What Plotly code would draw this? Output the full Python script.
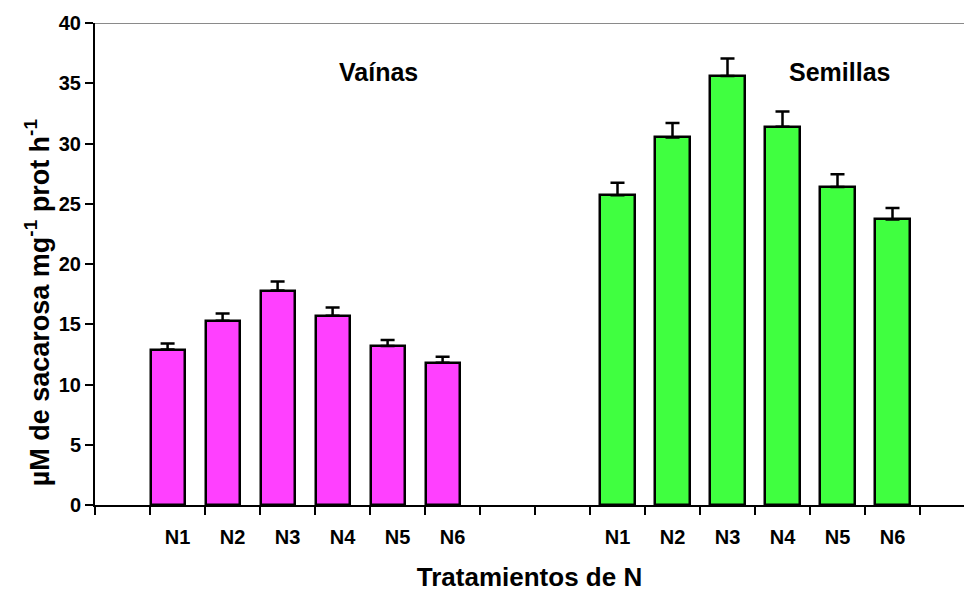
import plotly.graph_objects as go

# Treatment labels and measured sucrose activity (mean and standard error)
tratamientos = ["N1", "N2", "N3", "N4", "N5", "N6"]
vainas = [12.9, 15.3, 17.8, 15.7, 13.2, 11.8]
vainas_err = [0.5, 0.6, 0.75, 0.7, 0.5, 0.5]
semillas = [25.7, 30.5, 35.6, 31.4, 26.4, 23.7]
semillas_err = [1.05, 1.2, 1.45, 1.25, 1.05, 0.95]

# slot positions along the x axis for each group
pos_vainas = [1, 2, 3, 4, 5, 6]
pos_semillas = [9, 10, 11, 12, 13, 14]
all_pos = pos_vainas + pos_semillas
all_labels = tratamientos + tratamientos

FONT = "Liberation Sans"
x_range = [-0.5, 15.3]

fig = go.Figure()

fig.add_trace(go.Bar(
    x=[p - 0.18 for p in pos_vainas], y=vainas, width=0.62,
    marker=dict(color="#FF40FF", line=dict(color="black", width=2.5)),
    error_y=dict(type="data", array=vainas_err, symmetric=False,
                 arrayminus=[0] * len(vainas_err),
                 color="black", thickness=2.5, width=7),
    showlegend=False,
))
fig.add_trace(go.Bar(
    x=pos_semillas, y=semillas, width=0.62,
    marker=dict(color="#40FF40", line=dict(color="black", width=2.5)),
    error_y=dict(type="data", array=semillas_err, symmetric=False,
                 arrayminus=[0] * len(semillas_err),
                 color="black", thickness=2.5, width=7),
    showlegend=False,
))

# invisible trace that carries the treatment labels on the overlaid axis
fig.add_trace(go.Scatter(x=all_pos, y=[0] * len(all_pos), xaxis="x2",
                         mode="markers", marker=dict(opacity=0),
                         showlegend=False, hoverinfo="skip"))

fig.update_layout(
    width=964, height=592,
    margin=dict(l=95, r=0, t=23, b=87),
    paper_bgcolor="white", plot_bgcolor="white",
    bargap=0,
    font=dict(family=FONT, color="black"),
    xaxis=dict(
        range=x_range,
        tickmode="array",
        tickvals=[i + 0.5 for i in range(-1, 16)],
        showticklabels=False,
        ticks="outside", ticklen=8, tickwidth=2, tickcolor="black",
        showline=True, linecolor="black", linewidth=2,
        showgrid=False, zeroline=False, automargin=False,
        title=dict(text="Tratamientos de N",
                   font=dict(family=FONT, size=26, weight="bold"),
                   standoff=55),
    ),
    xaxis2=dict(
        range=x_range, overlaying="x", anchor="y", side="bottom",
        tickmode="array", tickvals=all_pos, ticktext=all_labels,
        ticks="", showline=False, showgrid=False, zeroline=False,
        ticklabelstandoff=18, automargin=False,
        tickfont=dict(family=FONT, size=20, weight="bold"),
    ),
    yaxis=dict(
        range=[0, 40], tickmode="linear", tick0=0, dtick=5,
        ticks="outside", ticklen=8, tickwidth=2, tickcolor="black",
        showline=True, linecolor="black", linewidth=2,
        showgrid=False, zeroline=False, automargin=False,
        tickfont=dict(family=FONT, size=20, weight="bold"),
    ),
    shapes=[dict(type="line", xref="paper", yref="y", x0=0, x1=1, y0=40, y1=40,
                 line=dict(color="#8a8a8a", width=2))],
    annotations=[
        dict(x=-0.067, y=16.8, xref="paper", yref="y", xanchor="center",
             yanchor="middle", textangle=-90, showarrow=False,
             text="µM de sacarosa mg<sup>-1</sup> prot h<sup>-1</sup>",
             font=dict(family=FONT, size=27, weight="bold")),
        dict(x=4.65, y=35.9, xref="x", yref="y", text="Vaínas", showarrow=False,
             font=dict(family=FONT, size=25, weight="bold")),
        dict(x=13.03, y=35.9, xref="x", yref="y", text="Semillas", showarrow=False,
             font=dict(family=FONT, size=25, weight="bold")),
    ],
)

fig.write_html("out.html")
